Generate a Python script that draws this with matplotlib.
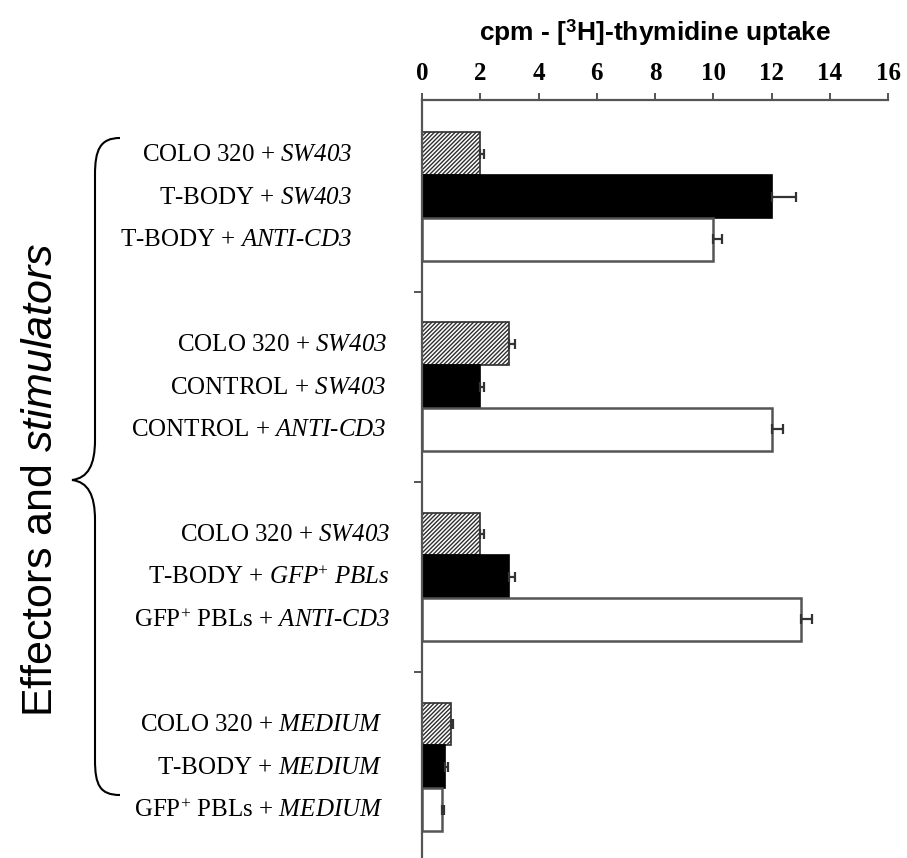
import numpy as np
import matplotlib
matplotlib.use('Agg')
import matplotlib.pyplot as plt
from matplotlib.path import Path
from matplotlib.patches import PathPatch
from matplotlib.transforms import offset_copy

# mathtext fonts: sf -> italic serif (labels), cal -> italic sans (side title)
plt.rcParams['mathtext.fontset'] = 'custom'
plt.rcParams['mathtext.rm'] = 'Liberation Serif'
plt.rcParams['mathtext.it'] = 'Liberation Serif:italic'
plt.rcParams['mathtext.sf'] = 'Liberation Serif:italic'
plt.rcParams['mathtext.cal'] = 'Liberation Sans:italic'
plt.rcParams['mathtext.bf'] = 'Liberation Sans:bold'
plt.rcParams['hatch.linewidth'] = 1.0

''' DATA '''

# labels per group, top to bottom (hatched, black, white)
group_labels = [
    ['COLO 320 + $\\mathsf{SW403}$', 'T-BODY + $\\mathsf{SW403}$',
     'T-BODY + $\\mathsf{ANTI}$-$\\mathsf{CD3}$'],
    ['COLO 320 + $\\mathsf{SW403}$', 'CONTROL + $\\mathsf{SW403}$',
     'CONTROL + $\\mathsf{ANTI}$-$\\mathsf{CD3}$'],
    ['COLO 320 + $\\mathsf{SW403}$', 'T-BODY + $\\mathsf{GFP}^{+}\\ \\mathsf{PBLs}$',
     'GFP$^{+}$ PBLs + $\\mathsf{ANTI}$-$\\mathsf{CD3}$'],
    ['COLO 320 + $\\mathsf{MEDIUM}$', 'T-BODY + $\\mathsf{MEDIUM}$',
     'GFP$^{+}$ PBLs + $\\mathsf{MEDIUM}$'],
]

hatched_vals = [2.0, 3.0, 2.0, 1.0]
hatched_err = [0.12, 0.2, 0.12, 0.05]
black_vals = [12.0, 2.0, 3.0, 0.8]
black_err = [0.85, 0.12, 0.2, 0.08]
white_vals = [10.0, 12.0, 13.0, 0.7]
white_err = [0.3, 0.4, 0.4, 0.04]

xticks = [0, 2, 4, 6, 8, 10, 12, 14, 16]

''' PLOTTING '''

W, H = 907, 858
fig = plt.figure(figsize=(W / 100, H / 100), dpi=100)
ax = fig.add_axes([422 / W, 0, 466 / W, 758 / H])

g = np.arange(len(hatched_vals))
bh = 0.225
edge = '#555555'

ax.barh(g - bh, hatched_vals, height=bh, color='white', edgecolor='#2e2e2e',
        hatch='////////', linewidth=1.2, zorder=2)
ax.barh(g, black_vals, height=bh, color='black', edgecolor='black', linewidth=1.2, zorder=2)
ax.barh(g + bh, white_vals, height=bh, color='white', edgecolor=edge, linewidth=1.8, zorder=2)

for off, v, e in [(-bh, hatched_vals, hatched_err), (0, black_vals, black_err),
                  (bh, white_vals, white_err)]:
    ax.errorbar(v, g + off, xerr=[np.zeros(len(e)), e], fmt='none', ecolor='#333333',
                elinewidth=1.6, capsize=3.5, capthick=1.6, zorder=3)

ax.set_xlim(0, 16)
ax.set_ylim(3.48, -0.508)

ax.xaxis.tick_top()
ax.set_xticks(xticks)
ax.set_xticklabels([str(t) for t in xticks], fontfamily='Liberation Serif',
                   fontweight='bold', fontsize=18)
ax.tick_params(axis='x', direction='out', length=5, width=1.4, color=edge, pad=6)

ax.set_yticks([0.5, 1.5, 2.5])
ax.set_yticklabels([])
ax.tick_params(axis='y', direction='out', length=6, width=1.4, color=edge)

for s in ['right', 'bottom']:
    ax.spines[s].set_visible(False)
for s in ['top', 'left']:
    ax.spines[s].set_color(edge)
    ax.spines[s].set_linewidth(1.6)

# row labels, right edge offset (px) from the axis differs per group
label_offsets = [70, 35, 32, 39]
for i, labels in enumerate(group_labels):
    tr = offset_copy(ax.get_yaxis_transform(), fig=fig, x=-label_offsets[i], y=-1, units='dots')
    for j, lab in enumerate(labels):
        ax.text(0, g[i] + (j - 1) * bh, lab, transform=tr, ha='right', va='center',
                fontfamily='Liberation Serif', fontsize=18, clip_on=False)

fig.text(655 / W, 1 - 33 / H, 'cpm - [$^{\\mathbf{3}}$H]-thymidine uptake',
         fontfamily='Liberation Sans', fontweight='bold', fontsize=19,
         ha='center', va='center')

fig.text(41 / W, 1 - 480 / H, 'Effectors and $\\mathcal{stimulators}$', rotation=90,
         fontfamily='Liberation Sans', fontsize=31, ha='center', va='center')

# curly brace
def P(x, y):
    return (x / W, 1 - y / H)

verts = [P(120, 138), P(100, 138), P(95, 150), P(95, 175), P(95, 440),
         P(95, 465), P(88, 478), P(72, 480),
         P(88, 482), P(95, 495), P(95, 520), P(95, 760),
         P(95, 785), P(100, 795), P(120, 795)]
codes = [Path.MOVETO, Path.CURVE4, Path.CURVE4, Path.CURVE4, Path.LINETO,
         Path.CURVE4, Path.CURVE4, Path.CURVE4,
         Path.CURVE4, Path.CURVE4, Path.CURVE4, Path.LINETO,
         Path.CURVE4, Path.CURVE4, Path.CURVE4]
fig.add_artist(PathPatch(Path(verts, codes), transform=fig.transFigure,
                         fill=False, edgecolor='black', linewidth=1.5))

plt.savefig('out.png', dpi=100)
